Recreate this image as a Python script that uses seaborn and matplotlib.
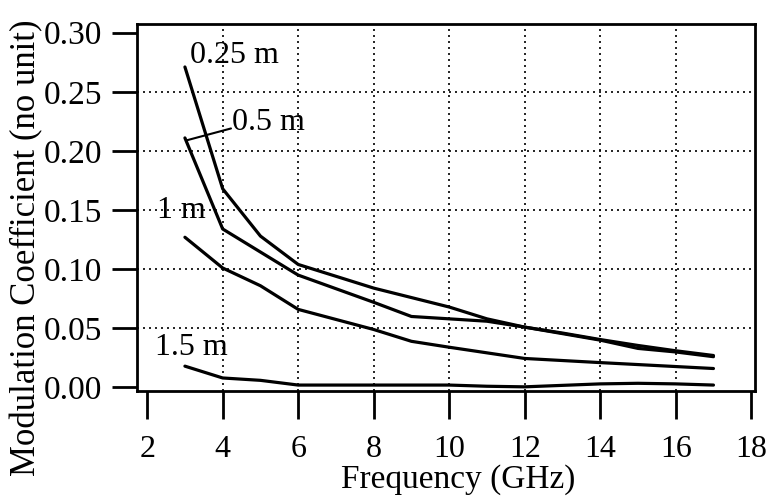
import matplotlib
matplotlib.use('Agg')
import matplotlib.pyplot as plt
import seaborn as sns
import pandas as pd

# Values (frequency in GHz, coefficient no unit)
freq_025 = [3, 4, 5, 6, 8, 10, 11, 12, 14, 15, 16, 17]
coef_025 = [0.271, 0.168, 0.128, 0.104, 0.084, 0.068, 0.058, 0.051, 0.040, 0.033, 0.030, 0.026]

freq_05 = [3, 4, 6, 8, 9, 11, 12, 13, 14, 15, 16, 17]
coef_05 = [0.211, 0.134, 0.095, 0.072, 0.060, 0.056, 0.051, 0.046, 0.0405, 0.0355, 0.031, 0.027]

freq_1 = [3, 4, 5, 6, 8, 9, 10, 12, 14, 17]
coef_1 = [0.127, 0.101, 0.086, 0.066, 0.049, 0.039, 0.034, 0.0245, 0.021, 0.016]

freq_15 = [3, 4, 5, 6, 8, 10, 11, 12, 14, 15, 16, 17]
coef_15 = [0.018, 0.008, 0.006, 0.002, 0.002, 0.002, 0.001, 0.0005, 0.003, 0.0035, 0.003, 0.002]

dist_names = ['0.25 m', '0.5 m', '1 m', '1.5 m']
x_ticks = [2, 4, 6, 8, 10, 12, 14, 16, 18]
y_ticks = [0.00, 0.05, 0.10, 0.15, 0.20, 0.25, 0.30]

frames = []
for name, fx, fy in zip(dist_names,
                        [freq_025, freq_05, freq_1, freq_15],
                        [coef_025, coef_05, coef_1, coef_15]):
    frames.append(pd.DataFrame({'freq': fx, 'coef': fy, 'dist': name}))
df = pd.concat(frames, ignore_index=True)

sns.set_style('white')
plt.rcParams['font.family'] = ['Liberation Serif', 'DejaVu Serif']
plt.rcParams['text.color'] = 'black'
plt.rcParams['axes.labelcolor'] = 'black'

fig = plt.figure(figsize=(7.73, 5.01), dpi=100)
ax = fig.add_axes([0.1772, 0.2196, 0.7995, 0.7324])

sns.lineplot(data=df, x='freq', y='coef', hue='dist', palette=['black'] * 4,
             estimator=None, sort=False, legend=False, linewidth=2.3, ax=ax)

ax.set_xlim(1.73, 18.1)
ax.set_ylim(-0.003, 0.3073)
ax.set_xticks(x_ticks)
ax.set_yticks(y_ticks)
ax.set_yticklabels([f'{v:.2f}' for v in y_ticks])

ax.grid(True, linestyle=(0, (1.2, 2.4)), color='black', linewidth=1.2)
gx = ax.xaxis.get_gridlines()
gx[0].set_visible(False)
gx[-1].set_visible(False)
gy = ax.yaxis.get_gridlines()
gy[0].set_visible(False)
gy[-1].set_visible(False)

for sp in ax.spines.values():
    sp.set_color('black')
    sp.set_linewidth(2)

ax.tick_params(axis='y', direction='out', length=18, width=2, pad=7,
               labelsize=24, colors='black', left=True)
ax.tick_params(axis='x', direction='out', length=20, width=2, pad=12,
               labelsize=23, colors='black', bottom=True)

ax.set_xlabel('Frequency (GHz)', fontsize=24)
ax.set_ylabel('Modulation Coefficient (no unit)', fontsize=25)
ax.xaxis.set_label_coords(0.52, -0.2)
ax.yaxis.set_label_coords(-0.152, 0.39)

# curve labels
ax.text(3.14, 0.274, '0.25 m', fontsize=23, ha='left', va='baseline')
ax.text(4.25, 0.2175, '0.5 m', fontsize=23, ha='left', va='baseline')
ax.plot([3.05, 4.22], [0.209, 0.219], color='black', linewidth=1.5)
ax.text(2.25, 0.1437, '1 m', fontsize=23, ha='left', va='baseline')
ax.text(2.21, 0.0272, '1.5 m', fontsize=23, ha='left', va='baseline')

fig.savefig('out.png', dpi=100)
